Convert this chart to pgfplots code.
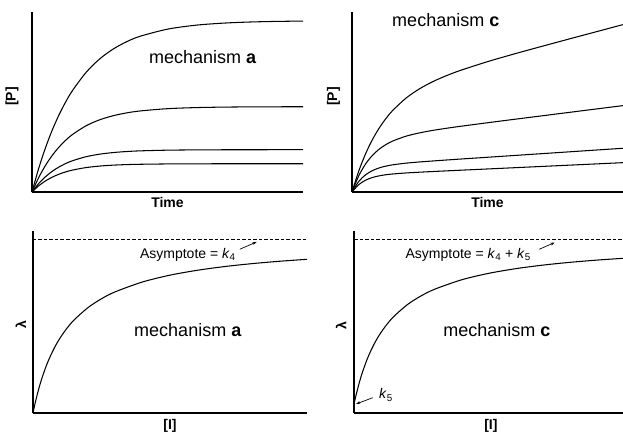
\documentclass[border=0pt]{standalone}
\usepackage{fontspec}
\setmainfont{Liberation Sans}
\usepackage{pgfplots}
\pgfplotsset{compat=1.18}
\usetikzlibrary{arrows.meta}

\pgfplotsset{
  panel/.style={
    scale only axis, anchor=south west,
    axis lines=left,
    axis line style={-, line width=1.2pt},
    every outer x axis line/.append style={-},
    every outer y axis line/.append style={-},
    xtick=\empty, ytick=\empty,
    xmin=0, xmax=1, ymin=0,
    clip=false,
  },
  curve/.style={black, line width=1.05pt, smooth, mark=none},
  asym/.style={black, line width=0.9pt, dash pattern=on 3.5pt off 2pt, mark=none},
}
\tikzset{
  axlabel/.style={font=\fontsize{14}{16}\selectfont\bfseries, inner sep=0pt},
  mech/.style={font=\fontsize{18}{21}\selectfont, inner sep=0pt, anchor=base},
  note/.style={font=\fontsize{14}{16}\selectfont, inner sep=0pt, anchor=base west},
  pointer/.style={-{Stealth[length=4pt,width=3pt]}, line width=0.7pt},
}

\begin{document}
\begin{tikzpicture}
\path[use as bounding box] (0pt,0pt) rectangle (623pt,432pt);

% ---- [P] vs time, mechanism a: single-exponential approach to a plateau
\begin{axis}[panel, at={(32pt,240pt)}, width=271pt, height=180pt, ymax=1]
\addplot[curve] coordinates {(0,0) (0.025,0.1326) (0.05,0.2468) (0.075,0.3450) (0.1,0.4295) (0.125,0.5023) (0.15,0.5649) (0.2,0.6653) (0.25,0.7396) (0.3,0.7946) (0.35,0.8354) (0.4,0.8657) (0.5,0.9046) (0.6,0.9260) (0.7,0.9377) (0.8,0.9442) (0.9,0.9477) (1,0.9496)};
\addplot[curve] coordinates {(0,0) (0.025,0.0811) (0.05,0.1482) (0.075,0.2039) (0.1,0.2501) (0.125,0.2884) (0.15,0.3201) (0.2,0.3683) (0.25,0.4013) (0.3,0.4240) (0.35,0.4397) (0.4,0.4504) (0.5,0.4629) (0.6,0.4687) (0.7,0.4715) (0.8,0.4728) (0.9,0.4734) (1,0.4737)};
\addplot[curve] coordinates {(0,0) (0.025,0.0474) (0.05,0.0852) (0.075,0.1153) (0.1,0.1394) (0.125,0.1587) (0.15,0.1741) (0.2,0.1962) (0.25,0.2102) (0.3,0.2192) (0.35,0.2249) (0.4,0.2286) (0.5,0.2324) (0.6,0.2339) (0.7,0.2346) (0.8,0.2348) (0.9,0.2349) (1,0.2350)};
\addplot[curve] coordinates {(0,0) (0.025,0.0347) (0.05,0.0618) (0.075,0.0828) (0.1,0.0992) (0.125,0.1120) (0.15,0.1220) (0.2,0.1358) (0.25,0.1441) (0.3,0.1492) (0.35,0.1523) (0.4,0.1541) (0.5,0.1559) (0.6,0.1566) (0.7,0.1569) (0.8,0.1570) (0.9,0.1570) (1,0.1570)};
\node[mech] at (axis description cs:0.630,0.715) {mechanism \textbf{a}};
\node[axlabel] at (axis description cs:0.5,-0.061) {Time};
\node[axlabel, rotate=90] at (axis description cs:-0.074,0.53) {[P]};
\end{axis}

% ---- [P] vs time, mechanism c: burst followed by a steady linear phase
\begin{axis}[panel, at={(352pt,240pt)}, width=271pt, height=180pt, ymax=1]
\addplot[curve] coordinates {(0,0) (0.025,0.1168) (0.05,0.2121) (0.075,0.2901) (0.1,0.3545) (0.125,0.4079) (0.15,0.4526) (0.2,0.5224) (0.25,0.5741) (0.3,0.6144) (0.35,0.6473) (0.4,0.6755) (0.5,0.7241) (0.6,0.7676) (0.7,0.8090) (0.8,0.8496) (0.9,0.8898) (1,0.9300)};
\addplot[curve] coordinates {(0,0) (0.025,0.0904) (0.05,0.1555) (0.075,0.2028) (0.1,0.2375) (0.125,0.2634) (0.15,0.2830) (0.2,0.3104) (0.25,0.3287) (0.3,0.3427) (0.35,0.3544) (0.4,0.3649) (0.5,0.3847) (0.6,0.4040) (0.7,0.4230) (0.8,0.4420) (0.9,0.4610) (1,0.4800)};
\addplot[curve] coordinates {(0,0) (0.025,0.0588) (0.05,0.0954) (0.075,0.1186) (0.1,0.1337) (0.125,0.1438) (0.15,0.1509) (0.2,0.1604) (0.25,0.1670) (0.3,0.1726) (0.35,0.1779) (0.4,0.1830) (0.5,0.1930) (0.6,0.2030) (0.7,0.2130) (0.8,0.2230) (0.9,0.2330) (1,0.2430)};
\addplot[curve] coordinates {(0,0) (0.025,0.0411) (0.05,0.0655) (0.075,0.0804) (0.1,0.0897) (0.125,0.0958) (0.15,0.1001) (0.2,0.1059) (0.25,0.1101) (0.3,0.1139) (0.35,0.1175) (0.4,0.1210) (0.5,0.1280) (0.6,0.1350) (0.7,0.1420) (0.8,0.1490) (0.9,0.1560) (1,0.1630)};
\node[mech] at (axis description cs:0.346,0.918) {mechanism \textbf{c}};
\node[axlabel] at (axis description cs:0.5,-0.061) {Time};
\node[axlabel, rotate=90] at (axis description cs:-0.068,0.53) {[P]};
\end{axis}

% ---- lambda vs [I], mechanism a: hyperbola through the origin
\begin{axis}[panel, at={(33pt,19pt)}, width=274pt, height=182pt, ymax=1.048]
\addplot[asym] coordinates {(0,1) (1,1)};
\addplot[curve] coordinates {(0,0) (0.005,0.0370) (0.01,0.0714) (0.02,0.1333) (0.03,0.1875) (0.045,0.2571) (0.06,0.3158) (0.08,0.3810) (0.1,0.4348) (0.125,0.4902) (0.15,0.5357) (0.2,0.6061) (0.25,0.6579) (0.3,0.6977) (0.4,0.7547) (0.5,0.7937) (0.6,0.8219) (0.7,0.8434) (0.8,0.8602) (0.9,0.8738) (1,0.8850)};
\node[mech] at (axis description cs:0.565,0.419) {mechanism \textbf{a}};
\node[note] at (axis description cs:0.39,0.85) {Asymptote = \textit{k}\textsubscript{4}};
\draw[pointer] (axis cs:0.755,0.943) -- (axis cs:0.816,0.985);
\node[axlabel] at (axis description cs:0.5,-0.071) {[I]};
\node[axlabel, rotate=90] at (axis description cs:-0.044,0.487) {λ};
\end{axis}

% ---- lambda vs [I], mechanism c: hyperbola offset by k5
\begin{axis}[panel, at={(354pt,19pt)}, width=269pt, height=182pt, ymax=1.048]
\addplot[asym] coordinates {(0,1) (1,1)};
\addplot[curve] coordinates {(0,0.05) (0.005,0.0852) (0.01,0.1178) (0.02,0.1766) (0.03,0.2281) (0.045,0.2942) (0.06,0.3500) (0.08,0.4120) (0.1,0.4631) (0.125,0.5157) (0.15,0.5589) (0.2,0.6258) (0.25,0.6750) (0.3,0.7128) (0.4,0.7670) (0.5,0.8040) (0.6,0.8308) (0.7,0.8512) (0.8,0.8672) (0.9,0.8801) (1,0.8908)};
\node[mech] at (axis description cs:0.531,0.423) {mechanism \textbf{c}};
\node[note] at (axis description cs:0.191,0.85) {Asymptote = \textit{k}\textsubscript{4} + \textit{k}\textsubscript{5}};
\draw[pointer] (axis cs:0.689,0.943) -- (axis cs:0.745,0.981);
\node[note] at (axis cs:0.093,0.081) {\textit{k}\textsubscript{5}};
\draw[pointer] (axis cs:0.0695,0.088) -- (axis cs:0.008,0.052);
\node[axlabel] at (axis description cs:0.509,-0.071) {[I]};
\node[axlabel, rotate=90] at (axis description cs:-0.048,0.478) {λ};
\end{axis}
\end{tikzpicture}
\end{document}
